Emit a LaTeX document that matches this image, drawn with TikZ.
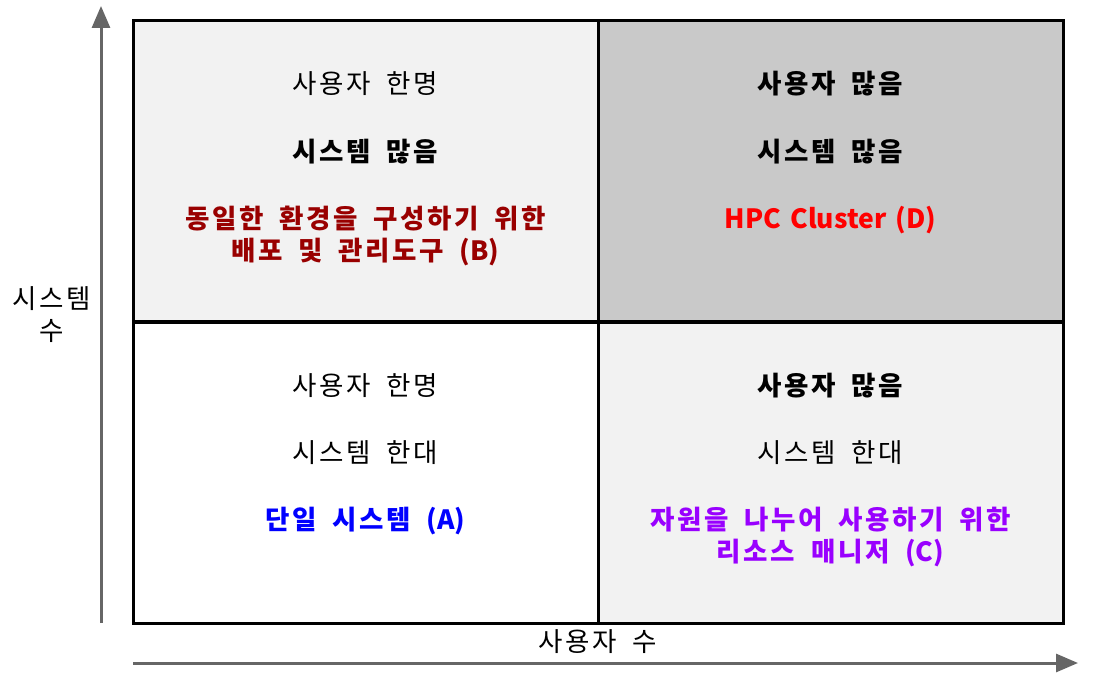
\documentclass[tikz,border=0pt]{standalone}
\usepackage{fontspec}
\setmainfont{Noto Sans CJK KR}[LetterSpace=10,WordSpace=1.8]
\newfontfamily\latinpart{Noto Sans CJK KR}[WordSpace=1.5]
\usetikzlibrary{arrows.meta}
\definecolor{cellgray}{HTML}{F2F2F2}
\definecolor{celldark}{HTML}{C9C9C9}
\definecolor{axisgray}{HTML}{666666}
\definecolor{darkred}{HTML}{990000}
\definecolor{violet}{HTML}{9900FF}
\begin{document}
\begin{tikzpicture}[
    x=1pt, y=-1pt,
    cell/.style={
        rectangle,
        draw=black,
        line width=3pt,
        minimum width=465pt,
        minimum height=301pt,
        inner sep=0pt
    },
    label/.style={
        font=\fontsize{26.5}{32}\selectfont,
        align=center
    },
    strong/.style={
        label,
        font=\fontsize{26.5}{32}\selectfont\bfseries
    },
    axis/.style={
        -{Triangle[length=22pt,width=18pt]},
        line width=3pt,
        axisgray
    }
]
\useasboundingbox (0,0) rectangle (1111,695);

% Quadrant cells
\node[cell, fill=white] (qa) at (365.5, 472.5) {};
\node[cell, fill=cellgray] (qb) at (365.5, 171) {};
\node[cell, fill=cellgray] (qc) at (830.5, 472.5) {};
\node[cell, fill=celldark] (qd) at (830.5, 171) {};

% Top left
\node[label] (b1) at (365.5, 84) {사용자 한명};
\node[strong] (b2) at (365.5, 152) {시스템 많음};
\node[strong, text=darkred] (b3) at (365.5, 236) {동일한 환경을 구성하기 위한\\배포 및 관리도구 {\latinpart (B)}};

% Top right
\node[strong] (d1) at (830.5, 84) {사용자 많음};
\node[strong] (d2) at (830.5, 152) {시스템 많음};
\node[strong, text=red] (d3) at (830.5, 220) {\latinpart HPC Cluster (D)};

% Bottom left
\node[label] (a1) at (365.5, 386) {사용자 한명};
\node[label] (a2) at (365.5, 453) {시스템 한대};
\node[strong, text=blue] (a3) at (365.5, 521) {단일 시스템 {\latinpart (A)}};

% Bottom right
\node[strong] (c1) at (830.5, 386) {사용자 많음};
\node[label] (c2) at (830.5, 453) {시스템 한대};
\node[strong, text=violet] (c3) at (830.5, 537) {자원을 나누어 사용하기 위한\\리소스 매니저 {\latinpart (C)}};

% Axes
\coordinate (ybase) at (101, 623);
\coordinate (ytip) at (101, 6);
\coordinate (xbase) at (133, 663);
\coordinate (xtip) at (1078, 663);
\draw[axis] (ybase) -- (ytip);
\draw[axis] (xbase) -- (xtip);
\node[label] (ylab) at (52, 315) {시스템\\수};
\node[label] (xlab) at (598, 642) {사용자 수};

\end{tikzpicture}
\end{document}
